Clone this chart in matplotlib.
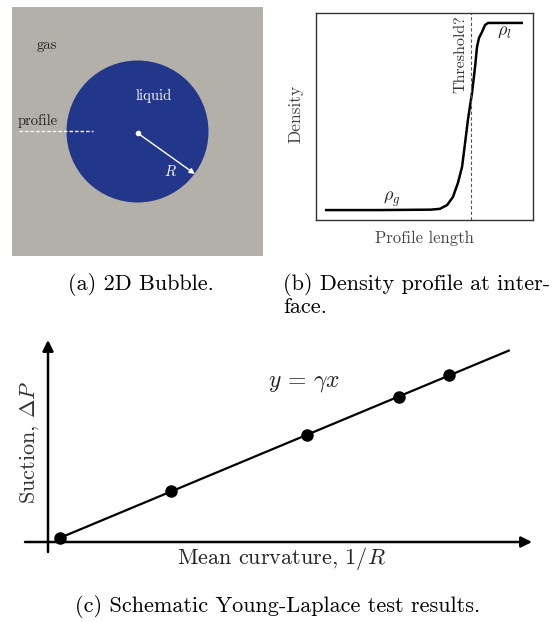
import numpy as np
import matplotlib
matplotlib.use("Agg")
import matplotlib.pyplot as plt
from matplotlib.patches import Circle, Rectangle

plt.rcParams["font.family"] = ["cmr10", "DejaVu Serif"]
plt.rcParams["mathtext.fontset"] = "cm"
plt.rcParams["axes.unicode_minus"] = False

W, H = 555, 622

# (b) density along the profile line (fractions of the plot box)
profile_length = [0.041, 0.300, 0.530, 0.571, 0.604, 0.631, 0.654, 0.673, 0.687,
                  0.700, 0.719, 0.733, 0.742, 0.751, 0.765, 0.779, 0.793, 0.954]
density = [0.048, 0.048, 0.050, 0.054, 0.072, 0.111, 0.179, 0.256, 0.372,
           0.483, 0.614, 0.739, 0.836, 0.879, 0.908, 0.942, 0.952, 0.952]
threshold = 0.714

# (c) Young-Laplace test points
curvature = [0.030, 0.307, 0.646, 0.875, 1.000]
suction = [0.010, 0.127, 0.267, 0.362, 0.416]

GAS = "#b3afa9"
LIQUID = "#22368a"


def px_axes(fig, x0, y0, x1, y1):
    return fig.add_axes([x0 / W, 1 - y1 / H, (x1 - x0) / W, (y1 - y0) / H])


fig = plt.figure(figsize=(W / 100, H / 100), dpi=100)

# ---------- (a) 2D bubble ----------
axa = px_axes(fig, 12, 7, 263, 256)
axa.set_xlim(12, 263)
axa.set_ylim(256, 7)
axa.axis("off")
axa.add_patch(Rectangle((12, 7), 251, 249, facecolor=GAS, edgecolor="none"))
center = (137.5, 131.5)
radius = 71
axa.add_patch(Circle(center, radius, facecolor=LIQUID, edgecolor="none"))
axa.plot([19, 93], [131, 131], color="white", lw=1.0, ls=(0, (2.5, 1.5)))
axa.plot([center[0]], [center[1] + 1.5], "o", color="white", ms=3)
axa.annotate("", xy=(195, 174), xytext=(center[0], center[1] + 1.5),
             arrowprops=dict(arrowstyle="-|>", color="white", lw=1.0,
                             mutation_scale=8, shrinkA=0, shrinkB=0))
axa.text(47, 45, "gas", fontsize=10.5, color="#222222", ha="center", va="center")
axa.text(154, 96, "liquid", fontsize=10.5, color="white", ha="center", va="center")
axa.text(38, 121, "profile", fontsize=10.5, color="#222222", ha="center", va="center")
axa.text(170, 171, "$R$", fontsize=10.5, color="white", ha="center", va="center")
fig.text(141 / W, 1 - 284 / H, "(a) 2D Bubble.", fontsize=16, ha="center", va="center")

# ---------- (b) density profile ----------
axb = px_axes(fig, 316, 13, 533, 220)
axb.set_xlim(0, 1)
axb.set_ylim(0, 1)
axb.set_xticks([])
axb.set_yticks([])
for s in axb.spines.values():
    s.set_color("#333333")
    s.set_linewidth(1.0)
axb.plot(profile_length, density, color="black", lw=1.8,
         solid_joinstyle="round", solid_capstyle="butt")
axb.axvline(threshold, color="#555555", lw=0.8, ls=(0, (3, 2)))
axb.text(threshold - 0.05, 0.99, "Threshold?", rotation=90, fontsize=11.5,
         color="#333333", ha="center", va="top")
axb.text(0.87, 0.905, r"$\rho_l$", fontsize=13, color="#222222", ha="center", va="center")
axb.text(0.35, 0.10, r"$\rho_g$", fontsize=13, color="#222222", ha="center", va="center")
axb.set_ylabel("Density", fontsize=12.5, color="#444444")
axb.yaxis.set_label_coords(-0.06, 0.51)
axb.set_xlabel("Profile length", fontsize=12, color="#444444", labelpad=8)
fig.text(283 / W, 1 - 284 / H, "(b) Density profile at inter-", fontsize=16,
         ha="left", va="center")
fig.text(283 / W, 1 - 307 / H, "face.", fontsize=16, ha="left", va="center")

# ---------- (c) Young-Laplace results ----------
scale = 401.0
axc = px_axes(fig, 20, 335, 540, 562)
axc.set_xlim((20 - 48) / scale, (540 - 48) / scale)
axc.set_ylim((542 - 562) / scale, (542 - 335) / scale)
axc.axis("off")
arrow = dict(arrowstyle="-|>", color="black", lw=1.8, mutation_scale=16,
             shrinkA=0, shrinkB=0)
axc.annotate("", xy=((532 - 48) / scale, 0), xytext=((25 - 48) / scale, 0),
             arrowprops=arrow)
axc.annotate("", xy=(0, (542 - 340) / scale), xytext=(0, (542 - 552) / scale),
             arrowprops=arrow)
slope, intercept = np.polyfit(curvature, suction, 1)
x_line = np.array([curvature[0], 1.149])
axc.plot(x_line, slope * x_line + intercept, color="black", lw=1.6)
axc.plot(curvature, suction, "o", color="black", ms=8, clip_on=False)
axc.text((304 - 48) / scale, (542 - 383) / scale, r"$y\,=\,\gamma x$", fontsize=17,
         color="#222222", ha="center", va="center")
fig.text(30 / W, 1 - 442 / H, r"Suction, $\Delta P$", rotation=90, fontsize=16,
         color="#333333", ha="center", va="center")
fig.text(281 / W, 1 - 559 / H, r"Mean curvature, $1/R$", fontsize=16,
         color="#222222", ha="center", va="center")
fig.text(278 / W, 1 - 607 / H, "(c) Schematic Young-Laplace test results.",
         fontsize=16, ha="center", va="center")

fig.savefig("out.png", dpi=100)
